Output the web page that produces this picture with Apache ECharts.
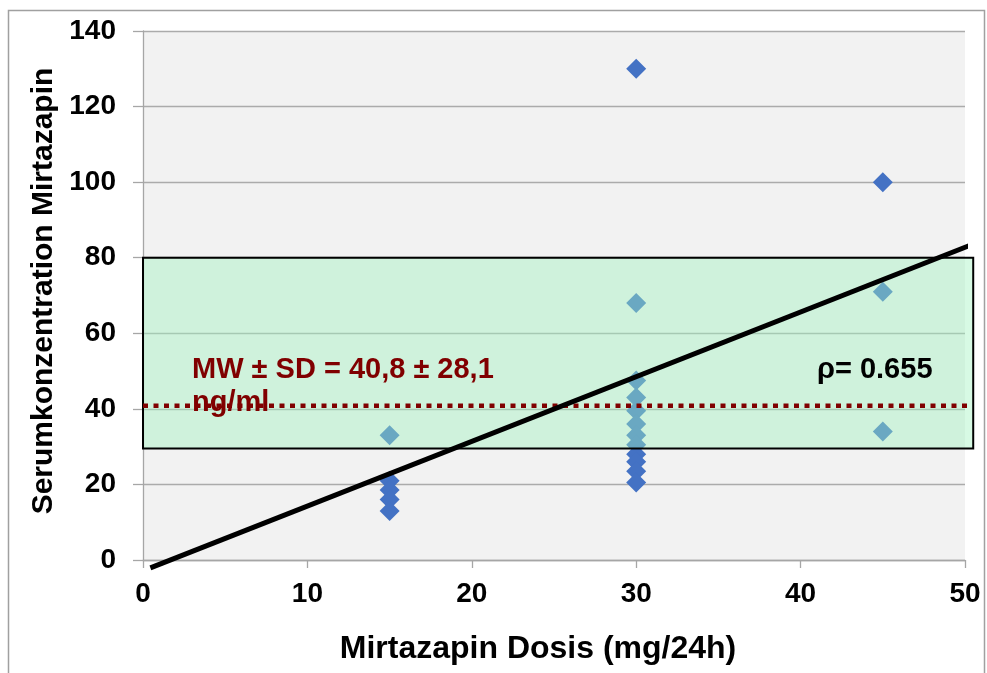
<!DOCTYPE html>
<html>
<head>
<meta charset="utf-8">
<script src="https://cdn.jsdelivr.net/npm/echarts@6/dist/echarts.min.js"></script>
<style>
  html, body { margin: 0; padding: 0; background: #ffffff; }
  #chart { width: 987px; height: 673px; }
</style>
</head>
<body>
<div id="chart"></div>
<script>
// Mirtazapin: dose (mg/24h) vs. serum concentration (ng/ml)
var dose15 = [33, 21, 18.5, 16, 13];
var dose30 = [130, 68, 47.5, 43, 39.5, 36, 33, 30.5, 28, 26, 23.5, 20.5];
var dose45 = [100, 71, 34];

// therapeutic reference range (ng/ml)
var rangeLow = 29.5;
var rangeHigh = 80;
var rangeXEnd = 50.5;

// mean of all samples and regression line endpoints
var meanValue = 40.8;
var meanXEnd = 50.55;
var regressionX = [0.45, 50.55];
var regressionY = [-2.1, 83.7];

var xTicks = [0, 10, 20, 30, 40, 50];
var yTicks = [0, 20, 40, 60, 80, 100, 120, 140];

var meanLabel = 'MW \u00b1 SD = 40,8 \u00b1 28,1';
var meanUnit = 'ng/ml';
var rhoLabel = '\u03c1= 0.655';
var xTitle = 'Mirtazapin Dosis (mg/24h)';
var yTitle = 'Serumkonzentration Mirtazapin';

var FONT = '"Liberation Sans", Arial, sans-serif';

var points = [];
dose15.forEach(function (v) { points.push([15, v]); });
dose30.forEach(function (v) { points.push([30, v]); });
dose45.forEach(function (v) { points.push([45, v]); });

var chart = echarts.init(document.getElementById('chart'), null, { renderer: 'canvas' });

var option = {
  animation: false,
  backgroundColor: '#ffffff',
  grid: {
    left: 143, right: 22, top: 31, bottom: 113,
    show: true, backgroundColor: '#f2f2f2', borderWidth: 0
  },
  xAxis: {
    type: 'value', min: xTicks[0], max: xTicks[xTicks.length - 1], interval: 10,
    axisLine: { show: true, lineStyle: { color: '#a6a6a6', width: 1.3 } },
    axisTick: { show: true, length: 8, lineStyle: { color: '#a6a6a6', width: 1.3 } },
    splitLine: { show: false },
    axisLabel: {
      margin: 20, color: '#000', fontFamily: FONT, fontWeight: 'bold', fontSize: 28
    }
  },
  yAxis: {
    type: 'value', min: yTicks[0], max: yTicks[yTicks.length - 1], interval: 20,
    axisLine: { show: true, lineStyle: { color: '#a6a6a6', width: 1.3 } },
    axisTick: { show: true, length: 10, lineStyle: { color: '#a6a6a6', width: 1.3 } },
    splitLine: { show: true, lineStyle: { color: '#ababab', width: 1.3 } },
    axisLabel: {
      margin: 27, color: '#000', fontFamily: FONT, fontWeight: 'bold', fontSize: 28
    }
  },
  graphic: [
    {
      type: 'rect', silent: true, z: -10,
      shape: { x: 8.5, y: 10.5, width: 976, height: 680 },
      style: { fill: 'none', stroke: '#a0a0a0', lineWidth: 1.5 }
    },
    {
      type: 'text', x: 44, y: 291, rotation: Math.PI / 2,
      style: {
        text: yTitle, font: 'bold 30px ' + FONT, fill: '#000',
        textAlign: 'center', textVerticalAlign: 'middle'
      }
    },
    {
      type: 'text', x: 538, y: 649,
      style: {
        text: xTitle, font: 'bold 32px ' + FONT, fill: '#000',
        textAlign: 'center', textVerticalAlign: 'middle'
      }
    },
    {
      type: 'text', x: 192, y: 370, z: 20,
      style: {
        text: meanLabel, font: 'bold 29px ' + FONT, fill: '#800000',
        textAlign: 'left', textVerticalAlign: 'middle'
      }
    },
    {
      type: 'text', x: 192, y: 403, z: 20,
      style: {
        text: meanUnit, font: 'bold 29px ' + FONT, fill: '#800000',
        textAlign: 'left', textVerticalAlign: 'middle'
      }
    },
    {
      type: 'text', x: 817, y: 370, z: 20,
      style: {
        text: rhoLabel, font: 'bold 29px ' + FONT, fill: '#000',
        textAlign: 'left', textVerticalAlign: 'middle'
      }
    }
  ],
  series: [
    {
      name: 'Proben',
      type: 'scatter',
      z: 2,
      symbol: 'diamond',
      symbolSize: 20,
      itemStyle: { color: '#4472c4', opacity: 1 },
      data: points
    },
    {
      // translucent reference-range box laid over the samples
      name: 'Referenzbereich',
      type: 'custom',
      z: 3,
      clip: false,
      data: [[0, rangeHigh, rangeXEnd, rangeLow]],
      renderItem: function (params, api) {
        var p1 = api.coord([api.value(0), api.value(1)]);
        var p2 = api.coord([api.value(2), api.value(3)]);
        return {
          type: 'rect',
          shape: { x: p1[0], y: p1[1], width: p2[0] - p1[0], height: p2[1] - p1[1] },
          style: { fill: 'rgba(160,242,191,0.42)', stroke: '#000', lineWidth: 2 }
        };
      }
    },
    {
      name: 'Mittelwert',
      type: 'line',
      z: 4,
      clip: false,
      symbol: 'none',
      lineStyle: { color: '#800000', width: 4.5, type: [5, 5.5], cap: 'butt' },
      data: [[0, meanValue], [meanXEnd, meanValue]]
    },
    {
      name: 'Regression',
      type: 'line',
      z: 5,
      clip: false,
      symbol: 'none',
      lineStyle: { color: '#000', width: 5 },
      data: [[regressionX[0], regressionY[0]], [regressionX[1], regressionY[1]]]
    }
  ]
};

chart.setOption(option);
</script>
</body>
</html>
